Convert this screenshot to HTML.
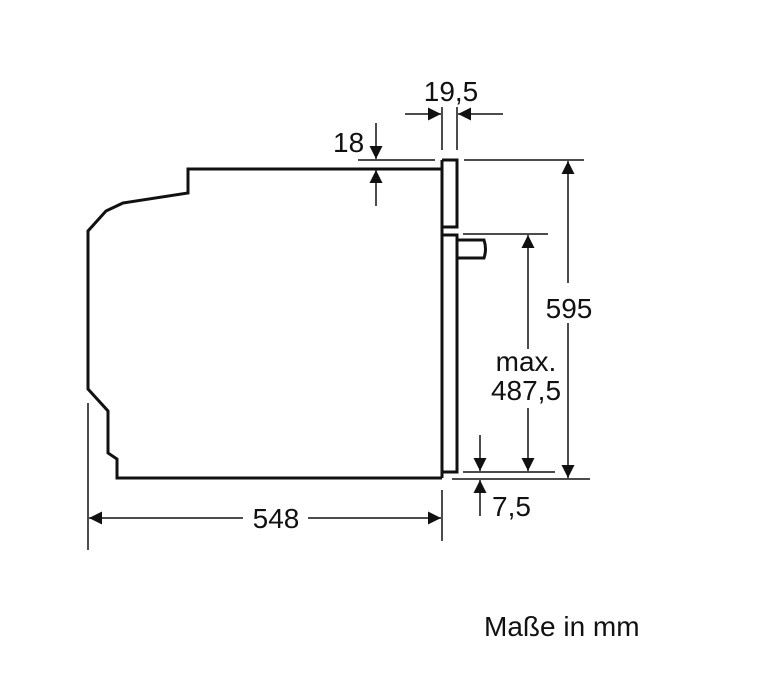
<!DOCTYPE html>
<html><head><meta charset="utf-8"><style>
html,body{margin:0;padding:0;background:#fff}
svg{display:block}
text{font-family:"Liberation Sans",sans-serif;font-size:28px;fill:#111}
</style></head><body>
<svg width="773" height="697" viewBox="0 0 773 697" xmlns="http://www.w3.org/2000/svg">
<defs>
<marker id="a" viewBox="0 0 10 10" refX="10" refY="5" markerWidth="17" markerHeight="13" markerUnits="userSpaceOnUse" orient="auto"><path d="M0,0 L10,5 L0,10 z" fill="#111"/></marker>
</defs>
<g fill="none" stroke="#111">
<path d="M442,169 H188 V193 L123,203 L106,211 L88,231 V389 L108,411 V453 L117,459 V478 H442" stroke-width="3"/>
<path d="M442,160 H457 V227 H442 V235 H457 V472 H442 V478" stroke-width="3"/>
<path d="M442,160 V227 M442,235 V472" stroke-width="3"/>
<path d="M457,240 H484 Q487,249 484,258 H457" stroke-width="3"/>
<g stroke-width="1.5">
<line x1="442" y1="107" x2="442" y2="150"/>
<line x1="457" y1="107" x2="457" y2="150"/>
<line x1="358" y1="160" x2="435" y2="160"/>
<line x1="464" y1="160" x2="584" y2="160"/>
<line x1="463" y1="234" x2="548" y2="234"/>
<line x1="463" y1="472" x2="555" y2="472"/>
<line x1="452" y1="479" x2="590" y2="479"/>
<line x1="88" y1="403" x2="88" y2="550"/>
<line x1="442" y1="490" x2="442" y2="541"/>
</g>
<g stroke-width="1.5" marker-end="url(#a)">
<line x1="405" y1="114" x2="441" y2="114"/>
<line x1="503" y1="114" x2="458" y2="114"/>
<line x1="376" y1="123" x2="376" y2="159"/>
<line x1="376" y1="206" x2="376" y2="170"/>
<line x1="568" y1="283" x2="568" y2="161"/>
<line x1="568" y1="323" x2="568" y2="478"/>
<line x1="528" y1="349" x2="528" y2="235"/>
<line x1="528" y1="408" x2="528" y2="471"/>
<line x1="480" y1="435" x2="480" y2="471"/>
<line x1="480" y1="516" x2="480" y2="480"/>
<line x1="243" y1="518" x2="89" y2="518"/>
<line x1="308" y1="518" x2="441" y2="518"/>
</g>
</g>
<text x="451" y="101" text-anchor="middle">19,5</text>
<text x="333" y="152">18</text>
<text x="569" y="318" text-anchor="middle">595</text>
<text x="526" y="371" text-anchor="middle">max.</text>
<text x="526" y="400" text-anchor="middle">487,5</text>
<text x="492" y="516">7,5</text>
<text x="276" y="528" text-anchor="middle">548</text>
<text x="484" y="636">Maße in mm</text>
</svg>
</body></html>
